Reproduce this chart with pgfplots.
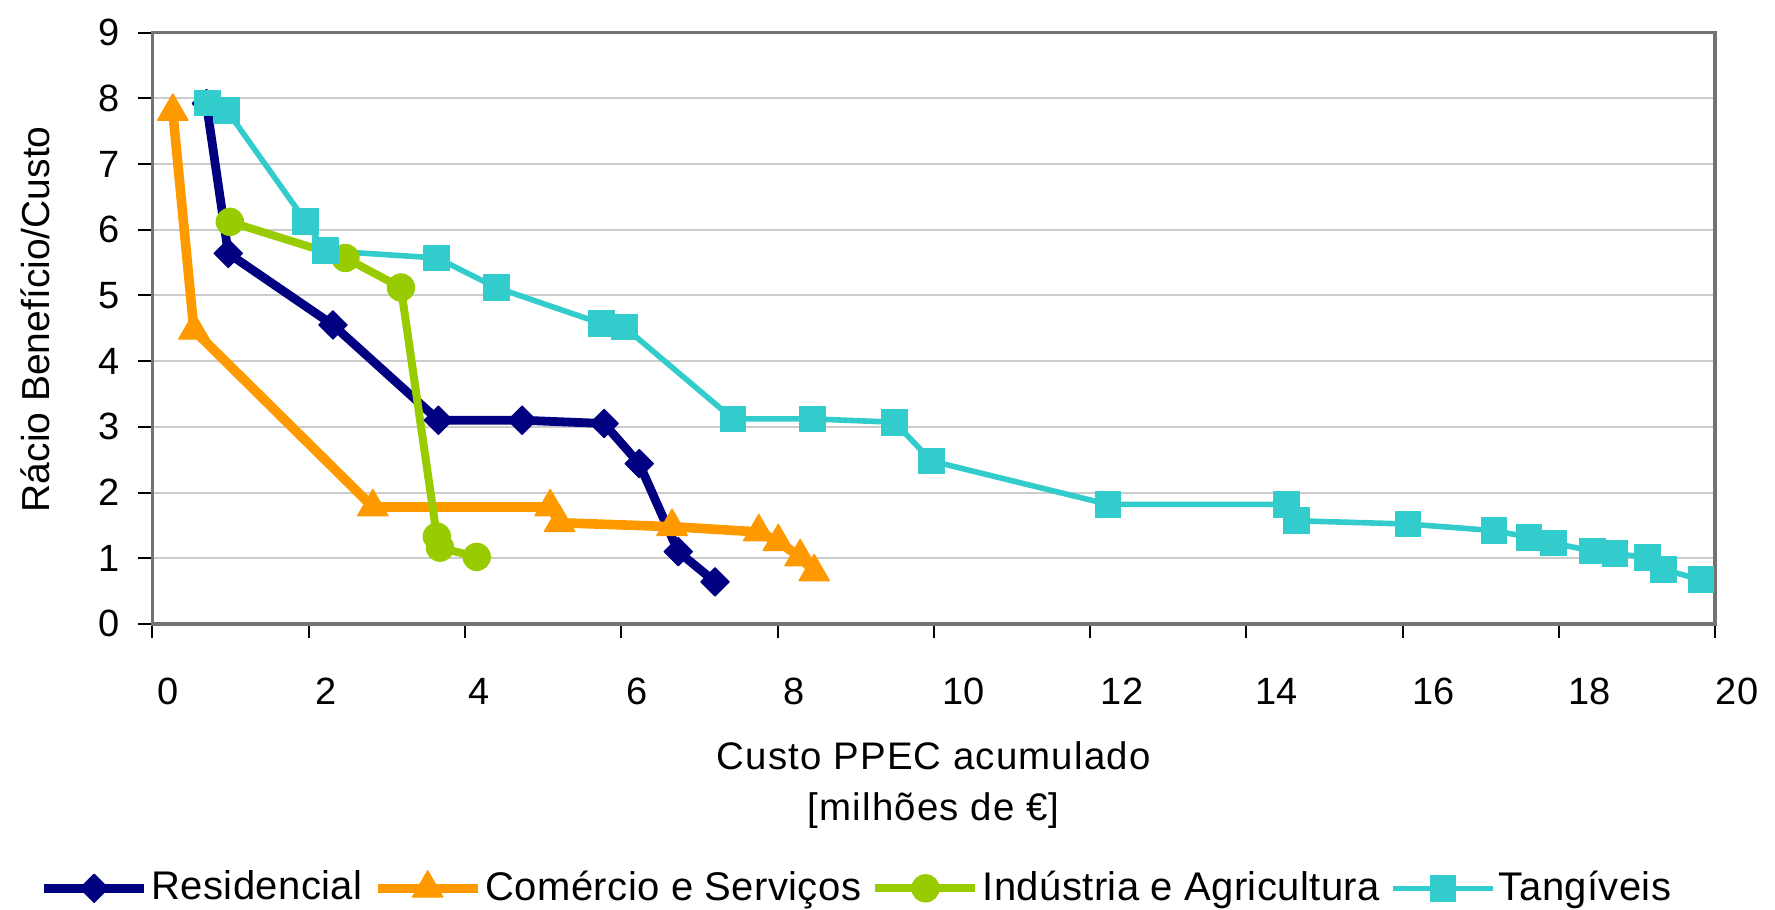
\documentclass[border=0pt]{standalone}
\usepackage{pgfplots}
\pgfplotsset{compat=1.18}
\usepackage{fontspec}
\setmainfont{Liberation Sans}
\definecolor{resid}{HTML}{000080}
\definecolor{comer}{HTML}{FF9900}
\definecolor{indus}{HTML}{99CC00}
\definecolor{tang}{HTML}{33CCCC}
\begin{document}
\begin{tikzpicture}
\path[use as bounding box] (-38.125pt,-71.275pt) rectangle (405.625pt,155.975pt);
\begin{axis}[
  at={(0pt,0pt)}, anchor=south west,
  scale only axis, width=390.625pt, height=147.825pt,
  xmin=0, xmax=20, ymin=0, ymax=9,
  clip=false,
  xtick={0,2,...,20}, ytick={0,1,...,9},
  xticklabels={\hspace{8pt}0,\hspace{8.5pt}2,\hspace{7pt}4,\hspace{8pt}6,\hspace{8.5pt}8,\hspace{15pt}10,\hspace{16pt}12,\hspace{15pt}14,\hspace{15.5pt}16,\hspace{15.5pt}18,\hspace{11pt}20},
  /pgf/number format/assume math mode=true,
  tick label style={font=\fontsize{9.5}{11}\selectfont},
  xticklabel style={anchor=north, yshift=-6.6pt},
  yticklabel style={anchor=east, xshift=-1.3pt},
  tick align=outside, xtick pos=bottom, ytick pos=left,
  major tick length=3.5pt,
  tick style={black, line width=0.5pt},
  ymajorgrids, grid style={gray!40, line width=0.5pt},
  axis line style={black!55, line width=0.8pt},
  xlabel={\addfontfeature{LetterSpace=3}Custo PPEC acumulado\\\addfontfeature{LetterSpace=3}[milhões de €]},
  xlabel style={at={(axis description cs:0.5,-0.1975)}, anchor=north, align=center, inner sep=0pt, font=\fontsize{9.6}{12.9}\selectfont},
  ylabel={Rácio Benefício/Custo},
  ylabel style={at={(axis description cs:-0.0753,0.5152)}, anchor=center, font=\fontsize{9.75}{11}\selectfont},
  legend columns=-1,
  legend cell align=left,
  legend image code/.code={\draw[mark repeat=2,mark phase=2] plot coordinates {(0pt,0pt)(12.5pt,0pt)(25pt,0pt)};},
  legend style={at={(axis description cs:-0.0727,-0.4472)}, anchor=west, draw=none, fill=none, inner sep=0pt,
    font=\fontsize{10}{12}\selectfont\addfontfeature{LetterSpace=1}, nodes={inner xsep=0.8pt, inner ysep=1pt},
    /tikz/every even column/.append style={column sep=1.8pt}},
]
\addplot[color=resid, line width=2.2pt, line join=round, mark=square*, mark size=2.5pt, mark options={rotate=45, line width=0.3pt}]
coordinates {(0.69,7.92) (0.97,5.64) (2.31,4.55) (3.66,3.10) (4.73,3.10) (5.78,3.05) (6.23,2.44) (6.73,1.10) (7.20,0.64)};
\addlegendentry{Residencial}
\addplot[color=comer, line width=2.4pt, line join=round, mark=triangle*, mark size=4.4pt, mark options={line width=0.3pt}]
coordinates {(0.26,7.80) (0.53,4.47) (2.82,1.78) (5.09,1.78) (5.21,1.54) (6.65,1.48) (7.76,1.40) (8.01,1.25) (8.29,1.02) (8.47,0.79)};
\addlegendentry{Comércio e Serviços}
\addplot[color=indus, line width=2.0pt, line join=round, mark=*, mark size=3.4pt, mark options={line width=0.3pt}]
coordinates {(0.99,6.12) (2.47,5.57) (3.18,5.12) (3.64,1.33) (3.68,1.16) (4.15,1.02)};
\addlegendentry{Indústria e Agricultura}
\addplot[color=tang, line width=1.4pt, line join=round, mark=square*, mark size=3.2pt, mark options={line width=0.3pt}]
coordinates {(0.70,7.93) (0.95,7.82) (1.96,6.13) (2.21,5.68) (3.64,5.57) (4.40,5.12) (5.75,4.57) (6.04,4.52) (7.43,3.12) (8.45,3.12) (9.50,3.07) (9.97,2.48) (12.23,1.82) (14.52,1.82) (14.64,1.57) (16.07,1.52) (17.17,1.42) (17.62,1.32) (17.93,1.23) (18.43,1.11) (18.72,1.07) (19.14,1.01) (19.34,0.83) (19.82,0.67)};
\addlegendentry{Tangíveis}
\end{axis}
\end{tikzpicture}
\end{document}
